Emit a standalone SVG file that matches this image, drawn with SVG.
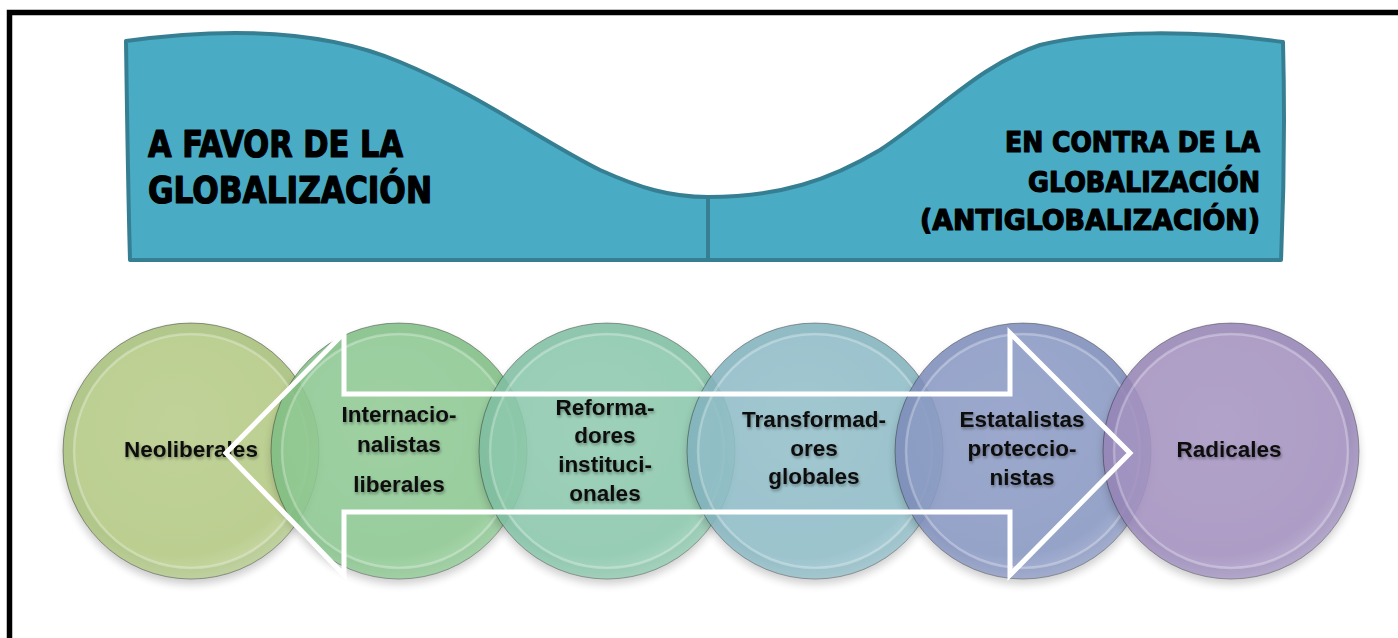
<svg xmlns="http://www.w3.org/2000/svg" width="1398" height="638" viewBox="0 0 1398 638">
  <defs>
    <style>
      .banner { fill: #4aabc5; stroke: #367f93; stroke-width: 4; stroke-linejoin: round; }
      .btxt { font-family: "DejaVu Sans Condensed", "Liberation Sans Narrow", "Liberation Sans", sans-serif; font-weight: bold; fill: #000; stroke: #000; stroke-width: 1.2; stroke-linejoin: round; }
      .ctxt { font-family: "Liberation Sans", "Arial", sans-serif; font-weight: bold; font-size: 22.5px; fill: #111; text-anchor: middle; }
      .rim { fill: none; stroke: #ffffff; stroke-opacity: 0.3; stroke-width: 2.5; }
      .edge { stroke: #000; stroke-opacity: 0.4; stroke-width: 1; }
      .arrow { fill: none; stroke: #ffffff; stroke-width: 5; stroke-linejoin: miter; }
    </style>
    <filter id="shadow" x="-20%" y="-20%" width="140%" height="150%">
      <feDropShadow dx="0" dy="5" stdDeviation="4" flood-color="#000" flood-opacity="0.22"/>
    </filter>
    <filter id="tshadow" x="-10%" y="-30%" width="120%" height="160%">
      <feDropShadow dx="1" dy="2" stdDeviation="1.6" flood-color="#000" flood-opacity="0.35"/>
    </filter>
    <radialGradient id="shine" cx="0.45" cy="0.4" r="0.6">
      <stop offset="0" stop-color="#ffffff" stop-opacity="0.06"/>
      <stop offset="0.85" stop-color="#ffffff" stop-opacity="0.0"/>
      <stop offset="1" stop-color="#ffffff" stop-opacity="0.18"/>
    </radialGradient>
  </defs>

  <rect width="1398" height="638" fill="#ffffff"/>
  <!-- frame -->
  <path d="M 9.5 640 V 12.5 H 1400" fill="none" stroke="#000" stroke-width="5.5"/>

  <!-- banner -->
  <g id="banner-left">
    <path class="banner" d="M 126,41 C 220,28 320,28 400,62 C 480,95 540,140 600,170 C 640,188 670,197 708,197 L 708,260 L 130,260 C 128,190 127,110 126,41 Z"/>
    <text class="btxt" x="148" y="157" font-size="37" textLength="255" lengthAdjust="spacingAndGlyphs">A FAVOR DE LA</text>
    <text class="btxt" x="148" y="203" font-size="37" textLength="284" lengthAdjust="spacingAndGlyphs">GLOBALIZACIÓN</text>
  </g>
  <g id="banner-right">
    <path class="banner" d="M 708,197 C 780,197 830,180 880,150 C 940,110 980,65 1040,45 C 1100,30 1200,30 1283,42 C 1285,120 1284,190 1281,260 L 708,260 Z"/>
    <text class="btxt" x="1260" y="152" font-size="29" text-anchor="end" textLength="255" lengthAdjust="spacingAndGlyphs">EN CONTRA DE LA</text>
    <text class="btxt" x="1260" y="192" font-size="29" text-anchor="end" textLength="232" lengthAdjust="spacingAndGlyphs">GLOBALIZACIÓN</text>
    <text class="btxt" x="1260" y="230" font-size="29" text-anchor="end" textLength="340" lengthAdjust="spacingAndGlyphs">(ANTIGLOBALIZACIÓN)</text>
  </g>

  <!-- circles -->
  <g id="n1" filter="url(#shadow)" opacity="0.95">
    <circle class="edge" cx="191" cy="451" r="128" fill="#adc483"/>
    <circle cx="191" cy="451" r="117" fill="#b9cd8c"/>
    <circle class="rim" cx="191" cy="451" r="117"/>
    <circle cx="191" cy="451" r="128" fill="url(#shine)"/>
  </g>
  <g id="n2" filter="url(#shadow)" opacity="0.88">
    <circle class="edge" cx="399" cy="451" r="128" fill="#7fbe84"/>
    <circle cx="399" cy="451" r="117" fill="#8bc790"/>
    <circle class="rim" cx="399" cy="451" r="117"/>
    <circle cx="399" cy="451" r="128" fill="url(#shine)"/>
  </g>
  <g id="n3" filter="url(#shadow)" opacity="0.88">
    <circle class="edge" cx="607" cy="451" r="128" fill="#7ebea1"/>
    <circle cx="607" cy="451" r="117" fill="#8ac7ab"/>
    <circle class="rim" cx="607" cy="451" r="117"/>
    <circle cx="607" cy="451" r="128" fill="url(#shine)"/>
  </g>
  <g id="n4" filter="url(#shadow)" opacity="0.88">
    <circle class="edge" cx="815" cy="451" r="128" fill="#82b2bd"/>
    <circle cx="815" cy="451" r="117" fill="#8ebcc7"/>
    <circle class="rim" cx="815" cy="451" r="117"/>
    <circle cx="815" cy="451" r="128" fill="url(#shine)"/>
  </g>
  <g id="n5" filter="url(#shadow)" opacity="0.88">
    <circle class="edge" cx="1023" cy="451" r="128" fill="#7d8cb9"/>
    <circle cx="1023" cy="451" r="117" fill="#8897c2"/>
    <circle class="rim" cx="1023" cy="451" r="117"/>
    <circle cx="1023" cy="451" r="128" fill="url(#shine)"/>
  </g>
  <g id="n6" filter="url(#shadow)" opacity="0.88">
    <circle class="edge" cx="1231" cy="451" r="128" fill="#9584b5"/>
    <circle cx="1231" cy="451" r="117" fill="#a290bf"/>
    <circle class="rim" cx="1231" cy="451" r="117"/>
    <circle cx="1231" cy="451" r="128" fill="url(#shine)"/>
  </g>

  <!-- labels -->
  <g id="labels" filter="url(#tshadow)">
    <text class="ctxt" x="191" y="457">Neoliberales</text>
    <text class="ctxt" x="399" y="422">Internacio-</text>
    <text class="ctxt" x="399" y="452">nalistas</text>
    <text class="ctxt" x="399" y="492">liberales</text>
    <text class="ctxt" x="605" y="415">Reforma-</text>
    <text class="ctxt" x="605" y="443">dores</text>
    <text class="ctxt" x="605" y="472">instituci-</text>
    <text class="ctxt" x="605" y="501">onales</text>
    <text class="ctxt" x="814" y="427">Transformad-</text>
    <text class="ctxt" x="814" y="456">ores</text>
    <text class="ctxt" x="814" y="484">globales</text>
    <text class="ctxt" x="1022" y="427">Estatalistas</text>
    <text class="ctxt" x="1022" y="456">proteccio-</text>
    <text class="ctxt" x="1022" y="485">nistas</text>
    <text class="ctxt" x="1229" y="457">Radicales</text>
  </g>

  <!-- connectors: double-headed outline arrow -->
  <g id="connectors">
    <path class="arrow" d="M 226,453 L 344,333 L 344,394 L 1010,394 L 1010,333 L 1130,453 L 1010,575 L 1010,512 L 344,512 L 344,575 Z"/>
  </g>
</svg>
